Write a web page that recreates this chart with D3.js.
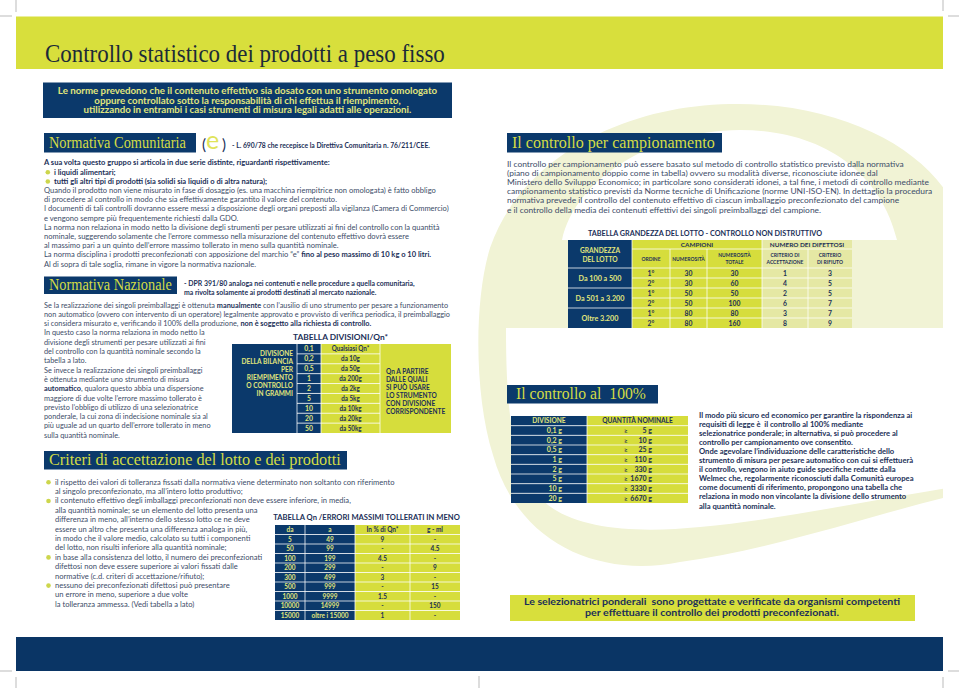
<!DOCTYPE html>
<html><head><meta charset="utf-8">
<script src="https://cdn.jsdelivr.net/npm/d3@7"></script>
<style>html,body{margin:0;padding:0;background:#fff;} svg{display:block}</style>
</head><body>
<script>
// ===================== DATA =====================
const titleText = "Controllo statistico dei prodotti a peso fisso";
const introLines = [
  "Le norme prevedono che il contenuto effettivo sia dosato con uno strumento omologato",
  "oppure controllato sotto la responsabilità di chi effettua il riempimento,",
  "utilizzando in entrambi i casi strumenti di misura legali adatti alle operazioni."
];
const comunitariaRef = "- L. 690/78 che recepisce la Direttiva Comunitaria n. 76/211/CEE.";
const comunitariaLines = [
  "**A sua volta questo gruppo si articola in due serie distinte, riguardanti rispettivamente:**",
  "•**i liquidi alimentari;**",
  "•**tutti gli altri tipi di prodotti (sia solidi sia liquidi o di altra natura);**",
  "Quando il prodotto non viene misurato in fase di dosaggio (es. una macchina riempitrice non omologata) è fatto obbligo",
  "di procedere al controllo in modo che sia effettivamente garantito il valore del contenuto.",
  "I documenti di tali controlli dovranno essere messi a disposizione degli organi preposti alla vigilanza (Camera di Commercio)",
  "e vengono sempre più frequentemente richiesti dalla GDO.",
  "La norma non relaziona in modo netto la divisione degli strumenti per pesare utilizzati ai fini del controllo con la quantità",
  "nominale, suggerendo solamente che l’errore commesso nella misurazione del contenuto effettivo dovrà essere",
  "al massimo pari a un quinto dell’errore massimo tollerato in meno sulla quantità nominale.",
  "La norma disciplina i prodotti preconfezionati con apposizione del marchio “e” **fino al peso massimo di 10 kg o 10 litri.**",
  "Al di sopra di tale soglia, rimane in vigore la normativa nazionale."
];
const nazionaleRef = [
  "- DPR 391/80 analoga nei contenuti e nelle procedure a quella comunitaria,",
  "ma rivolta solamente ai prodotti destinati al mercato nazionale."
];
const nazionaleLines = [
  "Se la realizzazione dei singoli preimballaggi è ottenuta **manualmente** con l’ausilio di uno strumento per pesare a funzionamento",
  "non automatico (ovvero con intervento di un operatore) legalmente approvato e provvisto di verifica periodica, il preimballaggio",
  "si considera misurato e, verificando il 100% della produzione, **non è soggetto alla richiesta di controllo.**",
  "In questo caso la norma relaziona in modo netto la",
  "divisione degli strumenti per pesare utilizzati ai fini",
  "del controllo con la quantità nominale secondo la",
  "tabella a lato.",
  "Se invece la realizzazione dei singoli preimballaggi",
  "è ottenuta mediante uno strumento di misura",
  "**automatico**, qualora questo abbia una dispersione",
  "maggiore di due volte l’errore massimo tollerato è",
  "previsto l’obbligo di utilizzo di una selezionatrice",
  "ponderale, la cui zona di indecisione nominale sia al",
  "più uguale ad un quarto dell’errore tollerato in meno",
  "sulla quantità nominale."
];
const criteriLines = [
  "•il rispetto dei valori di tolleranza fissati dalla normativa viene determinato non soltanto con riferimento",
  "al singolo preconfezionato, ma all’intero lotto produttivo;",
  "•il contenuto effettivo degli imballaggi preconfezionati non deve essere inferiore, in media,",
  "alla quantità nominale; se un elemento del lotto presenta una",
  "differenza in meno, all’interno dello stesso lotto ce ne deve",
  "essere un altro che presenta una differenza analoga in più,",
  "in modo che il valore medio, calcolato su tutti i componenti",
  "del lotto, non risulti inferiore alla quantità nominale;",
  "•in base alla consistenza del lotto, il numero dei preconfezionati",
  "difettosi non deve essere superiore ai valori fissati dalle",
  "normative (c.d. criteri di accettazione/rifiuto);",
  "•nessuno dei preconfezionati difettosi può presentare",
  "un errore in meno, superiore a due volte",
  "la tolleranza ammessa. (Vedi tabella a lato)"
];
const campionamentoLines = [
  "Il controllo per campionamento può essere basato sul metodo di controllo statistico previsto dalla normativa",
  "(piano di campionamento doppio come in tabella) ovvero su modalità diverse, riconosciute idonee dal",
  "Ministero dello Sviluppo Economico; in particolare sono considerati idonei, a tal fine, i metodi di controllo mediante",
  "campionamento statistico previsti da Norme tecniche di Unificazione (norme UNI-ISO-EN). In dettaglio la procedura",
  "normativa prevede il controllo del contenuto effettivo di ciascun imballaggio preconfezionato del campione",
  "e il controllo della media dei contenuti effettivi dei singoli preimballaggi del campione."
];
const centoLines = [
  "Il modo più sicuro ed economico per garantire la rispondenza ai",
  "requisiti di legge è  il controllo al 100% mediante",
  "selezionatrice ponderale; in alternativa, si può procedere al",
  "controllo per campionamento ove consentito.",
  "Onde agevolare l’individuazione delle caratteristiche dello",
  "strumento di misura per pesare automatico con cui si effettuerà",
  "il controllo, vengono in aiuto guide specifiche redatte dalla",
  "Welmec che, regolarmente riconosciuti dalla Comunità europea",
  "come documenti di riferimento, propongono una tabella che",
  "relaziona in modo non vincolante la divisione dello strumento",
  "alla quantità nominale."
];
const calloutLines = [
  "Le selezionatrici ponderali  sono progettate e verificate da organismi competenti",
  "per effettuare il controllo dei prodotti preconfezionati."
];
const headings = {
  comunitaria: "Normativa Comunitaria",
  nazionale: "Normativa Nazionale",
  criteri: "Criteri di accettazione del lotto e dei prodotti",
  campionamento: "Il controllo per campionamento",
  cento: "Il controllo al  100%"
};

// Tabella divisioni / Qn
const divTitle = "TABELLA DIVISIONI/Qn*";
const divLabel = ["DIVISIONE", "DELLA BILANCIA", "PER", "RIEMPIMENTO", "O CONTROLLO", "IN GRAMMI"];
const divValues = ["0,1", "0,2", "0,5", "1", "2", "5", "10", "20", "50"];
const divQn = ["Qualsiasi Qn*", "da 10g", "da 50g", "da 200g", "da 2kg", "da 5kg", "da 10kg", "da 20kg", "da 50kg"];
const divNote = ["Qn A PARTIRE", "DALLE QUALI", "SI PUÒ USARE", "LO STRUMENTO", "CON DIVISIONE", "CORRISPONDENTE"];

// Tabella Qn / errori massimi tollerati in meno
const tolTitle = "TABELLA Qn /ERRORI MASSIMI TOLLERATI IN MENO";
const tolHeaders = ["da", "a", "In % di Qn*", "g - ml"];
const tolDa = ["5", "50", "100", "200", "300", "500", "1000", "10000", "15000"];
const tolA = ["49", "99", "199", "299", "499", "999", "9999", "14999", "oltre i 15000"];
const tolPct = ["9", "-", "4.5", "-", "3", "-", "1.5", "-", "1"];
const tolG = ["-", "4.5", "-", "9", "-", "15", "-", "150", "-"];

// Tabella grandezza del lotto
const lottoTitle = "TABELLA GRANDEZZA DEL LOTTO - CONTROLLO NON DISTRUTTIVO";
const lottoGroups = ["Da 100 a 500", "Da 501 a 3.200", "Oltre 3.200"];
const lottoOrdine = ["1°", "2°", "1°", "2°", "1°", "2°"];
const lottoNumerosita = ["30", "30", "50", "50", "80", "80"];
const lottoTotale = ["30", "60", "50", "100", "80", "160"];
const lottoAccettazione = ["1", "4", "2", "6", "3", "8"];
const lottoRifiuto = ["3", "5", "5", "7", "7", "9"];

// Tabella controllo al 100%
const centoHeaders = ["DIVISIONE", "QUANTITÀ NOMINALE"];
const centoDivisione = ["0,1 g", "0,2 g", "0,5 g", "1 g", "2 g", "5 g", "10 g", "20 g"];
const centoQuantita = ["5", "10", "25", "110", "330", "1670", "3330", "6670"];

// ===================== STYLE =====================
const NAVY = "#0b396b", YEL = "#d6dd3c", PALE = "#e5e8a4", ONNAVY = "#e1e67c";
const BODY = "#3c4c68", BOLD = "#1b2f58", BG_E = "#f1f3d5";
const SANS = "Lato", SERIF = "Liberation Serif";

const svg = d3.select("body").append("svg").attr("width", 959).attr("height", 688)
  .attr("viewBox", "0 0 959 688");

function rect(g, x, y, w, h, fill) {
  return g.append("rect").attr("x", x).attr("y", y).attr("width", w).attr("height", h).attr("fill", fill);
}
function addSegs(t, str, boldFill) {
  str.split("**").forEach((s, i) => {
    if (!s) return;
    const sp = t.append("tspan").text(s);
    if (i % 2 === 1) sp.attr("font-weight", 700).attr("fill", boldFill);
  });
}
function block(o) {
  const g = svg.append("g");
  const weight = o.weight || 400, anchor = o.anchor || "start";
  const items = o.lines.map((raw, i) => {
    let ln = raw, bullet = false;
    if (ln.startsWith("•")) { bullet = true; ln = ln.slice(1); }
    const x = (bullet && o.bulletIndent != null) ? o.bulletIndent : o.x;
    const y = o.y + i * o.dy;
    const t = g.append("text").attr("x", x).attr("y", y)
      .attr("font-family", o.family || SANS).attr("font-size", o.size)
      .attr("font-weight", weight).attr("fill", o.fill).attr("text-anchor", anchor)
      .attr("xml:space", "preserve").style("white-space", "pre");
    addSegs(t, ln, o.bold || o.fill);
    if (bullet && o.bulletX != null) {
      g.append("circle").attr("cx", o.bulletX).attr("cy", y - o.size * 0.3).attr("r", 2.3).attr("fill", "#cdd64c");
    }
    return { t, x };
  });
  if (o.target) {
    const w = items[o.calib || 0].t.node().getComputedTextLength();
    const k = o.target / w;
    items.forEach(({ t, x }) => t.attr("transform", `translate(${x},0) scale(${k},1) translate(${-x},0)`));
  }
  return g;
}
function fitText(t, target) {
  const fs = +t.attr("font-size");
  const w = t.node().getComputedTextLength();
  t.attr("font-size", fs * target / w);
}
function fitTextX(t, target) {
  const x = +t.attr("x");
  const w = t.node().getComputedTextLength();
  t.attr("transform", `translate(${x},0) scale(${target / w},1) translate(${-x},0)`);
}
function headBox(x, y, w, h, text, tx, tw, fs) {
  rect(svg, x, y, w, h, NAVY);
  const t = svg.append("text").attr("x", tx).attr("y", y + h - 4.2)
    .attr("font-family", SERIF).attr("font-size", fs).attr("fill", "#d3dc45").text(text)
    .attr("xml:space", "preserve").style("white-space", "pre");
  fitTextX(t, tw);
}
function cellText(g, x, y, str, fill, anchor, size, k) {
  const t = g.append("text").attr("x", x).attr("y", y).attr("font-family", SANS)
    .attr("font-size", size || 6.6).attr("font-weight", 700).attr("fill", fill)
    .attr("text-anchor", anchor || "middle").text(str);
  if (k) t.attr("transform", `translate(${x},0) scale(${k},1) translate(${-x},0)`);
  return t;
}
function gridLine(g, x1, y1, x2, y2) {
  g.append("line").attr("x1", x1).attr("y1", y1).attr("x2", x2).attr("y2", y2)
    .attr("stroke", "#ffffff").attr("stroke-width", 0.9).attr("stroke-opacity", 0.85);
}

// ===================== BACKGROUND "e" =====================
const defs = svg.append("defs");
defs.append("clipPath").attr("id", "pageClip").append("rect").attr("x", 0).attr("y", 70).attr("width", 943).attr("height", 560);
const ePath =
  "M 960,494 C 870,515 780,548 680,562 C 600,578 518,545 493,455 C 474,395 474,300 490,248 " +
  "C 520,160 620,106 730,104 C 830,102 910,140 945,190 L 960,210 Z " +
  "M 562,240 C 575,180 650,131 740,130 C 820,130 880,170 897,240 Z " +
  "M 506,328 L 960,328 L 960,486 C 880,498 780,520 700,527 C 640,533 580,530 548,505 C 516,478 506,430 506,328 Z";
svg.append("path").attr("d", ePath).attr("fill", BG_E).attr("fill-rule", "evenodd").attr("clip-path", "url(#pageClip)");

// ===================== CROP MARKS =====================
const marks = [[16, 0, 16, 12], [0, 16, 12, 16], [943, 0, 943, 11], [948, 16, 959, 16],
  [0, 671, 12, 671], [16, 677, 16, 688], [479, 676, 479, 688], [948, 671, 959, 671], [943, 677, 943, 688]];
marks.forEach(m => svg.append("line").attr("x1", m[0]).attr("y1", m[1]).attr("x2", m[2]).attr("y2", m[3])
  .attr("stroke", "#aaaaaa").attr("stroke-width", 0.8));

// ===================== TOP BAND + TITLE =====================
rect(svg, 16, 16.5, 927, 52.5, "#d8df3c");
const title = svg.append("text").attr("x", 45).attr("y", 62).attr("font-family", SERIF)
  .attr("font-size", 26).attr("fill", "#1c2b38").text(titleText);
fitTextX(title, 400);

// Intro box
rect(svg, 43, 82.5, 409, 35.5, NAVY);
block({ lines: introLines, x: 247.5, y: 94.2, dy: 9.6, size: 9.2, weight: 700, fill: ONNAVY, anchor: "middle", calib: 0, target: 379 });

// ===================== LEFT COLUMN =====================
headBox(44, 133, 152, 19.5, headings.comunitaria, 49, 137, 16.5);
svg.append("text").attr("x", 202).attr("y", 149.5).attr("font-family", SANS).attr("font-size", 15).attr("fill", BOLD).text("(");
svg.append("text").attr("x", 206).attr("y", 149.3).attr("font-family", SANS).attr("font-size", 25).attr("fill", "#dfe45a").text("e");
svg.append("text").attr("x", 222).attr("y", 149.5).attr("font-family", SANS).attr("font-size", 15).attr("fill", BOLD).text(")");
block({ lines: [comunitariaRef], x: 232, y: 148, dy: 0, size: 8.2, weight: 700, fill: BOLD, target: 198 });

block({ lines: comunitariaLines, x: 44, bulletIndent: 54, bulletX: 47.8, y: 165.5, dy: 9.2, size: 8, fill: BODY, bold: BOLD, calib: 3, target: 393 });

headBox(44, 276.5, 133, 17.5, headings.nazionale, 49, 123, 16.5);
block({ lines: nazionaleRef, x: 184, y: 285.8, dy: 9, size: 8, weight: 700, fill: BOLD, calib: 0, target: 231 });

block({ lines: nazionaleLines, x: 44, y: 307.6, dy: 9.3, size: 8, fill: BODY, bold: BOLD, calib: 1, target: 407 });

// ---- Tabella divisioni ----
{
  const g = svg.append("g");
  const cx = [232, 297, 321, 380, 451];
  const ys = d3.scaleBand().domain(d3.range(divValues.length)).range([344, 433]);
  const tt = cellText(g, 340.5, 340, divTitle, BOLD, "middle", 8.2);
  fitText(tt, 95);
  rect(g, cx[0], 344, cx[1] - cx[0], 89, NAVY);
  rect(g, cx[3], 344, cx[4] - cx[3], 89, YEL);
  divValues.forEach((v, i) => {
    rect(g, cx[1], ys(i), cx[2] - cx[1], ys.bandwidth(), NAVY);
    rect(g, cx[2], ys(i), cx[3] - cx[2], ys.bandwidth(), YEL);
    cellText(g, (cx[1] + cx[2]) / 2, ys(i) + ys.bandwidth() / 2 + 2.5, v, ONNAVY, "middle", 6.8);
    cellText(g, (cx[2] + cx[3]) / 2, ys(i) + ys.bandwidth() / 2 + 2.5, divQn[i], BOLD, "middle", 6.8, 0.92);
    if (i > 0) gridLine(g, cx[1], ys(i), cx[3], ys(i));
  });
  [cx[1], cx[2], cx[3]].forEach(x => gridLine(g, x, 344, x, 433));
  divLabel.forEach((s, i) => cellText(g, 293, 355.8 + i * 8, s, ONNAVY, "end", 6.9, 0.95));
  divNote.forEach((s, i) => cellText(g, 386, 374.2 + i * 7.9, s, BOLD, "start", 6.9, 0.95));
}

headBox(44, 451, 303, 18.5, headings.criteri, 49, 292, 17.5);
block({ lines: criteriLines, x: 55, bulletIndent: 55, bulletX: 48.5, y: 484.6, dy: 9.4, size: 8, fill: BODY, bold: BOLD, calib: 0, target: 340 });

// ---- Tabella Qn / errori ----
{
  const g = svg.append("g");
  const cx = [275, 305, 355, 410, 460];
  const ys = d3.scaleBand().domain(d3.range(tolDa.length + 1)).range([525, 620]);
  const tt = cellText(g, 366.5, 519.5, tolTitle, BOLD, "middle", 8.8);
  fitText(tt, 187);
  const cols = [tolDa, tolA, tolPct, tolG];
  for (let r = 0; r <= tolDa.length; r++) {
    for (let c = 0; c < 4; c++) {
      const navy = c < 2;
      rect(g, cx[c], ys(r), cx[c + 1] - cx[c], ys.bandwidth(), navy ? NAVY : YEL);
      const s = r === 0 ? tolHeaders[c] : cols[c][r - 1];
      cellText(g, (cx[c] + cx[c + 1]) / 2, ys(r) + ys.bandwidth() / 2 + 2.5, s, navy ? ONNAVY : BOLD, "middle", 6.8, 0.95);
    }
    if (r > 0) gridLine(g, cx[0], ys(r), cx[4], ys(r));
  }
  cx.slice(1, 4).forEach(x => gridLine(g, x, 525, x, 620));
}

// ===================== RIGHT COLUMN =====================
headBox(507, 133, 215, 19.5, headings.campionamento, 512, 203, 17);
block({ lines: campionamentoLines, x: 507, y: 166.6, dy: 9.2, size: 8, fill: BODY, calib: 3, target: 426 });

// ---- Tabella grandezza lotto ----
{
  const g = svg.append("g");
  const cx = [568, 632, 670, 707, 762, 808, 852];
  const ys = d3.scaleBand().domain(d3.range(lottoOrdine.length)).range([268, 328]);
  const tt = cellText(g, 705, 236, lottoTitle, BOLD, "middle", 8.2);
  fitText(tt, 234);
  rect(g, cx[0], 240, cx[1] - cx[0], 28, NAVY);
  rect(g, cx[1], 240, cx[4] - cx[1], 9, YEL);
  rect(g, cx[4], 240, cx[6] - cx[4], 9, PALE);
  for (let c = 1; c < 6; c++) rect(g, cx[c], 249, cx[c + 1] - cx[c], 19, c < 4 ? YEL : PALE);
  cellText(g, 600, 252.5, "GRANDEZZA", ONNAVY, "middle", 6.6);
  cellText(g, 600, 261.5, "DEL LOTTO", ONNAVY, "middle", 6.6);
  cellText(g, (cx[1] + cx[4]) / 2, 247.2, "CAMPIONI", BOLD, "middle", 6.4);
  cellText(g, (cx[4] + cx[6]) / 2, 247.2, "NUMERO DEI DIFETTOSI", BOLD, "middle", 6.4);
  const h2 = [["ORDINE"], ["NUMEROSITÀ"], ["NUMEROSITÀ", "TOTALE"], ["CRITERIO DI", "ACCETTAZIONE"], ["CRITERIO", "DI RIFIUTO"]];
  h2.forEach((ls, j) => {
    const c = j + 1, xm = (cx[c] + cx[c + 1]) / 2;
    if (ls.length === 1) cellText(g, xm, 260.6, ls[0], BOLD, "middle", 5.4, 0.92);
    else ls.forEach((s, k) => cellText(g, xm, 256.8 + k * 7, s, BOLD, "middle", 5.4, 0.92));
  });
  const cols = [lottoOrdine, lottoNumerosita, lottoTotale, lottoAccettazione, lottoRifiuto];
  lottoOrdine.forEach((_, r) => {
    for (let c = 1; c < 6; c++) {
      rect(g, cx[c], ys(r), cx[c + 1] - cx[c], ys.bandwidth(), c < 4 ? YEL : PALE);
      cellText(g, (cx[c] + cx[c + 1]) / 2, ys(r) + ys.bandwidth() / 2 + 2.5, cols[c - 1][r], BOLD, "middle", 6.8);
    }
  });
  lottoGroups.forEach((s, i) => {
    rect(g, cx[0], ys(2 * i), cx[1] - cx[0], ys.bandwidth() * 2, NAVY);
    cellText(g, 600, ys(2 * i) + ys.bandwidth() + 2.6, s, ONNAVY, "middle", 7.2);
  });
  gridLine(g, cx[1], 249, cx[6], 249);
  gridLine(g, cx[0], 268, cx[6], 268);
  lottoOrdine.forEach((_, r) => { if (r > 0) gridLine(g, r % 2 === 0 ? cx[0] : cx[1], ys(r), cx[6], ys(r)); });
  [cx[1], cx[4]].forEach(x => gridLine(g, x, 240, x, 328));
  [cx[2], cx[3], cx[5]].forEach(x => gridLine(g, x, 249, x, 328));
}

headBox(507, 385, 151, 18.5, headings.cento, 516, 130, 17);

// ---- Tabella controllo al 100% ----
{
  const g = svg.append("g");
  const cx = [511, 587, 688];
  const ys = d3.scaleBand().domain(d3.range(centoDivisione.length + 1)).range([416, 503]);
  rect(g, cx[0], ys(0), cx[1] - cx[0], ys.bandwidth(), NAVY);
  rect(g, cx[1], ys(0), cx[2] - cx[1], ys.bandwidth(), YEL);
  cellText(g, (cx[0] + cx[1]) / 2, ys(0) + ys.bandwidth() / 2 + 2.4, centoHeaders[0], ONNAVY, "middle", 6.6);
  cellText(g, (cx[1] + cx[2]) / 2, ys(0) + ys.bandwidth() / 2 + 2.4, centoHeaders[1], BOLD, "middle", 6.6);
  centoDivisione.forEach((d, i) => {
    const r = i + 1, yc = ys(r) + ys.bandwidth() / 2 + 2.5;
    rect(g, cx[0], ys(r), cx[1] - cx[0], ys.bandwidth(), NAVY);
    rect(g, cx[1], ys(r), cx[2] - cx[1], ys.bandwidth(), YEL);
    cellText(g, 562, yc, d, ONNAVY, "end", 7);
    cellText(g, 624, yc, "≥", BOLD, "start", 6.4);
    cellText(g, 652, yc, centoQuantita[i] + " g", BOLD, "end", 7);
    gridLine(g, cx[0], ys(r), cx[2], ys(r));
  });
  gridLine(g, cx[1], 416, cx[1], 503);
}

block({ lines: centoLines, x: 699, y: 417.6, dy: 9.1, size: 8, weight: 700, fill: BOLD, calib: 7, target: 215 });

// Callout
rect(svg, 510, 595, 405, 26, "#d8df3c");
block({ lines: calloutLines, x: 712, y: 605.3, dy: 11, size: 9.4, weight: 700, fill: BOLD, anchor: "middle", calib: 0, target: 376 });

// ===================== BOTTOM BAND =====================
rect(svg, 16, 637, 927, 34, "#0a3565");
</script>
</body></html>
